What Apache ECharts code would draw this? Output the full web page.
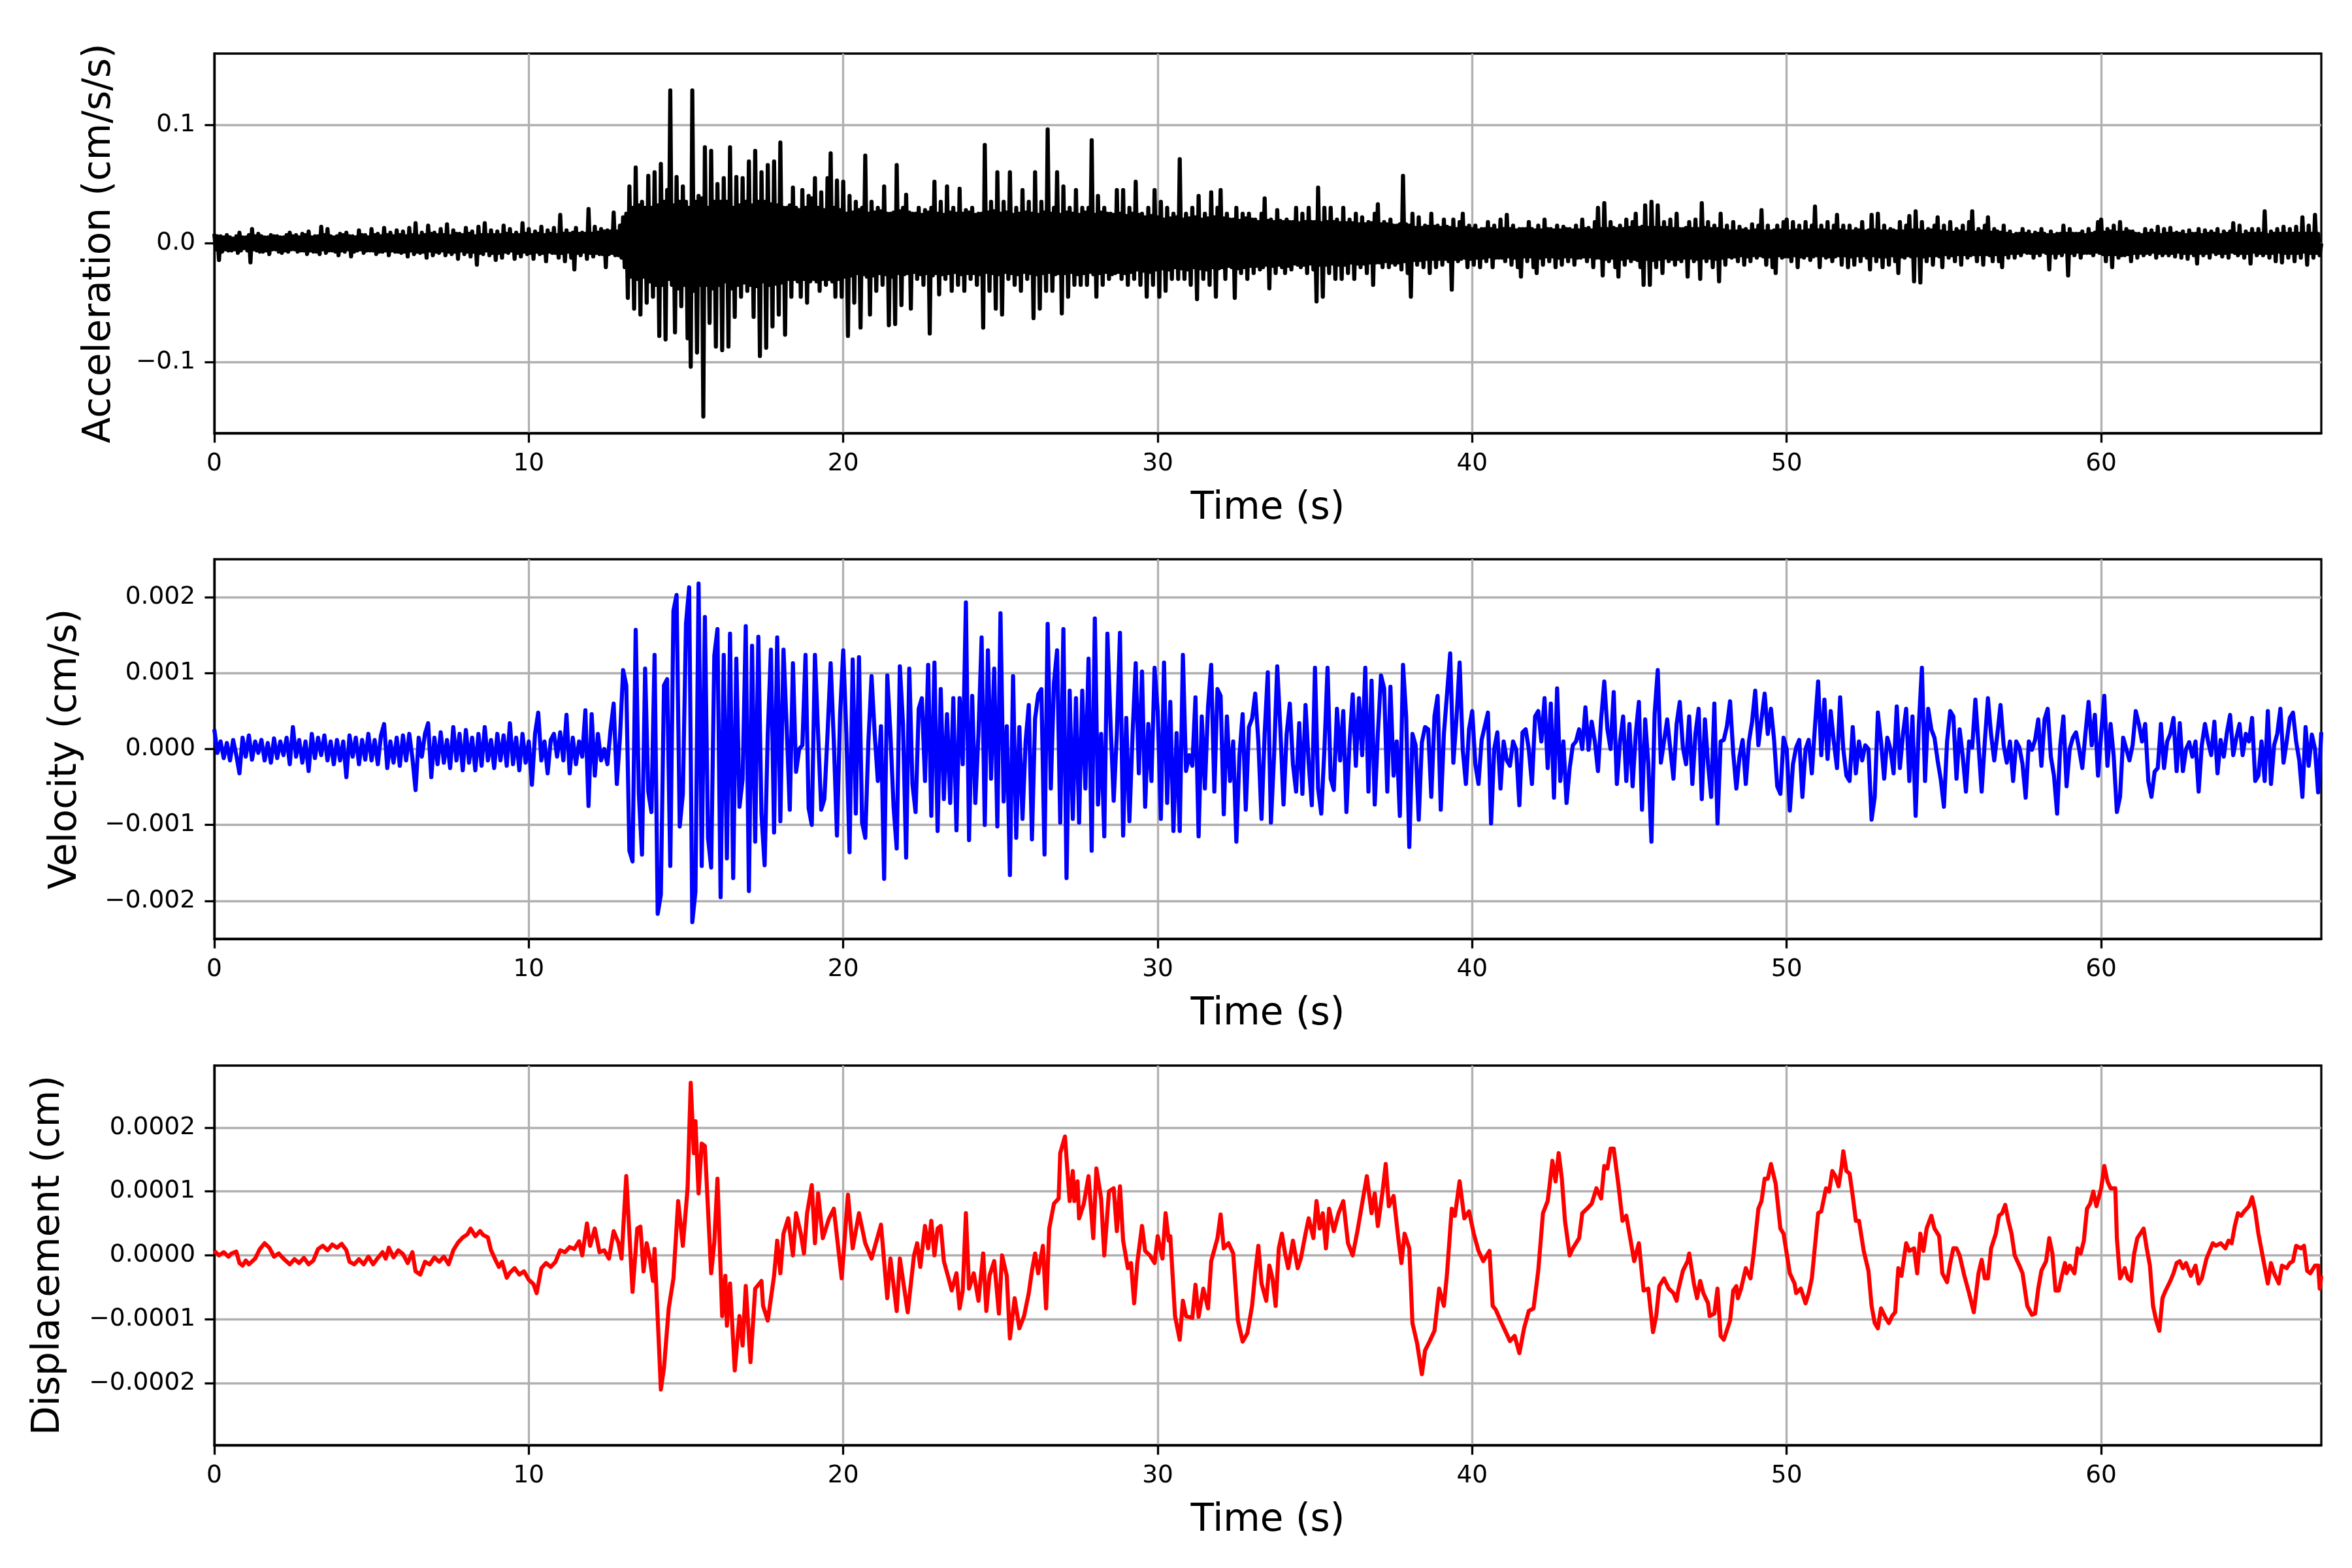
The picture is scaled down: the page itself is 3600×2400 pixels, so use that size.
<!DOCTYPE html>
<html>
<head>
<meta charset="utf-8">
<script src="https://cdn.jsdelivr.net/npm/echarts@6/dist/echarts.min.js"></script>
<style>
html, body { margin: 0; padding: 0; background: #fff; }
#chart { width: 3600px; height: 2400px; }
</style>
</head>
<body>
<div id="chart"></div>
<script>
// tick positions
var timeTicks = [0, 10, 20, 30, 40, 50, 60];
var accTicks = [-0.1, 0, 0.1];
var velTicks = [-0.002, -0.001, 0, 0.001, 0.002];
var dispTicks = [-0.0002, -0.0001, 0, 0.0001, 0.0002];

// sample steps of the records (s)
var accStep = 0.05;
var velStep = 0.1;

// acceleration, in 0.001 cm/s/s, one row per second
var accMilli = [
    8,-5,6,-14,6,-7,5,-5,7,-6,5,-6,4,-5,6,-8,9,-6,5,-4,
    5,-6,7,-16,12,-5,6,-6,8,-7,6,-7,5,-6,5,-9,7,-5,6,-5,
    6,-7,5,-8,5,-6,7,-7,9,-5,6,-5,7,-7,5,-6,8,-6,7,-9,
    10,-6,5,-7,6,-7,6,-9,14,-5,7,-8,12,-6,6,-6,5,-7,6,-10,
    8,-6,7,-7,9,-5,6,-11,6,-7,5,-6,11,-5,7,-8,7,-6,5,-6,
    12,-6,7,-9,8,-7,6,-7,13,-6,7,-10,9,-6,6,-7,11,-7,7,-8,
    10,-7,6,-11,13,-6,7,-9,17,-7,6,-8,9,-7,7,-12,15,-6,8,-10,
    9,-7,7,-8,12,-6,7,-10,16,-7,6,-9,11,-7,8,-13,8,-6,7,-9,
    13,-7,8,-11,10,-7,6,-18,14,-8,7,-9,17,-6,7,-10,11,-8,7,-14,
    10,-8,7,-12,15,-7,8,-8,12,-6,7,-13,9,-8,7,-11,17,-7,8,-9,
    12,-8,7,-13,10,-7,8,-9,14,-8,7,-15,11,-7,8,-8,13,-8,7,-12,
    24,-8,8,-15,11,-7,8,-12,9,-22,13,-8,8,-10,9,-7,8,-13,29,-8,
    8,-11,14,-8,9,-9,12,-9,10,-20,11,-9,10,-8,26,-10,10,-10,15,-12,
    22,-20,25,-46,48,-28,30,-55,64,-30,32,-60,35,-28,30,-50,57,-32,30,-45,
    60,-35,32,-78,67,-35,35,-81,45,-30,129,-35,32,-75,56,-38,35,-53,48,-35,
    35,-80,30,-104,129,-40,35,-92,40,-35,38,-146,81,-35,30,-67,78,-38,35,-87,
    50,-35,35,-90,55,-32,35,-87,81,-38,30,-62,56,-35,32,-45,55,-33,35,-40,
    69,-35,32,-62,78,-36,35,-95,60,-32,35,-88,66,-35,33,-70,69,-34,32,-60,
    85,-33,30,-77,30,-30,32,-45,47,-30,30,-32,28,-45,45,-30,30,-50,40,-32,
    38,-30,55,-32,30,-40,43,-30,28,-35,55,-30,76,-32,30,-45,53,-30,28,-45,
    52,-28,25,-78,40,-27,26,-50,35,-25,28,-71,30,-26,74,-28,25,-60,35,-27,
    26,-40,30,-25,27,-35,48,-26,25,-69,25,-28,26,-68,66,-25,27,-52,30,-26,
    41,-25,26,-55,25,-24,25,-30,30,-26,24,-35,28,-25,26,-76,30,-27,52,-25,
    25,-43,35,-26,24,-30,48,-25,26,-40,30,-24,25,-35,46,-26,25,-40,28,-25,
    26,-30,30,-25,24,-35,25,-26,25,-71,83,-24,26,-40,35,-25,27,-55,60,-26,
    25,-60,35,-24,26,-30,60,-25,24,-35,30,-26,25,-40,45,-24,26,-30,35,-25,
    25,-63,60,-26,24,-55,35,-25,26,-40,96,-24,25,-40,30,-26,60,-25,24,-59,
    48,-25,26,-45,30,-24,25,-35,45,-26,24,-35,30,-25,26,-35,30,-24,87,-26,
    24,-45,40,-25,26,-35,30,-24,25,-30,25,-26,24,-25,45,-24,25,-30,45,-25,
    23,-35,30,-24,25,-30,52,-22,24,-35,25,-23,22,-45,30,-24,23,-35,45,-22,
    22,-45,35,-21,20,-40,30,-22,21,-30,25,-20,22,-30,71,-21,20,-30,25,-22,
    21,-35,30,-20,22,-47,40,-21,20,-30,25,-22,21,-35,43,-20,22,-45,30,-21,
    45,-20,21,-30,25,-19,20,-20,20,-46,30,-21,19,-25,25,-20,21,-30,25,-19,
    20,-25,20,-19,18,-22,25,-20,38,-18,19,-38,20,-19,18,-25,28,-18,19,-20,
    18,-25,20,-19,18,-22,18,-17,30,-18,17,-20,25,-18,18,-25,30,-17,18,-22,
    18,-49,47,-18,17,-45,30,-18,18,-25,30,-17,18,-30,20,-18,17,-30,30,-18,
    17,-25,20,-16,17,-30,25,-17,16,-20,22,-17,16,-25,18,-16,17,-35,25,-16,
    33,-16,16,-20,18,-15,16,-20,20,-16,15,-18,15,-16,16,-22,57,-15,16,-25,
    15,-45,25,-14,13,-18,22,-14,13,-20,15,-13,14,-25,25,-13,14,-20,15,-13,
    13,-18,20,-13,14,-15,13,-39,20,-13,12,-15,18,-13,25,-12,13,-20,15,-13,
    12,-18,15,-12,11,-20,12,-12,12,-15,18,-11,12,-20,15,-12,11,-12,20,-12,
    12,-15,24,-11,12,-18,15,-12,11,-20,12,-28,12,-11,12,-15,18,-11,12,-20,
    11,-25,15,-12,11,-18,20,-11,12,-15,12,-11,11,-20,15,-12,11,-18,14,-11,
    12,-15,12,-11,11,-18,15,-12,11,-12,20,-11,12,-15,13,-11,11,-20,18,-12,
    30,-12,12,-27,34,-13,12,-15,18,-12,13,-20,12,-28,15,-13,12,-18,20,-12,
    13,-15,18,-13,25,-14,13,-20,14,-35,32,-13,13,-35,35,-14,13,-20,32,-13,
    13,-25,18,-12,13,-15,20,-13,12,-18,25,-13,12,-15,12,-12,13,-28,18,-12,
    12,-15,20,-13,12,-30,34,-12,13,-15,18,-12,12,-20,15,-13,12,-32,25,-12,
    11,-18,15,-11,10,-12,18,-11,10,-15,14,-10,11,-18,12,-11,10,-15,16,-10,
    11,-12,15,-10,28,-11,10,-18,15,-11,10,-20,11,-25,15,-10,11,-12,18,-11,
    20,-11,10,-15,18,-10,11,-20,15,-11,10,-12,18,-10,11,-14,15,-11,31,-10,
    11,-20,15,-10,11,-12,18,-11,10,-15,15,-11,24,-10,11,-18,15,-10,10,-20,
    15,-11,10,-18,12,-10,11,-15,18,-10,10,-12,11,-22,24,-10,11,-15,25,-11,
    10,-20,15,-11,10,-18,12,-10,11,-15,10,-25,18,-11,10,-12,15,-10,23,-11,
    11,-32,27,-10,11,-33,18,-11,10,-15,12,-10,11,-18,15,-10,22,-11,10,-20,
    15,-9,9,-12,18,-10,9,-15,12,-9,10,-18,15,-9,9,-12,18,-10,27,-9,
    9,-15,12,-9,10,-18,15,-9,22,-10,9,-15,12,-9,10,-15,9,-20,15,-9,
    8,-12,10,-8,7,-12,8,-8,8,-10,12,-7,8,-8,10,-8,7,-12,9,-8,
    8,-10,12,-7,8,-8,7,-22,10,-8,7,-12,8,-8,8,-10,15,-7,8,-27,
    12,-8,8,-10,8,-7,8,-12,10,-8,7,-8,12,-8,8,-10,9,-7,18,-8,
    20,-9,9,-15,12,-9,10,-20,15,-9,9,-12,18,-10,9,-10,12,-9,10,-15,
    10,-8,8,-12,8,-8,7,-10,12,-8,8,-9,11,-7,8,-12,14,-8,7,-10,
    12,-8,8,-10,13,-8,8,-11,9,-7,8,-12,10,-8,7,-13,11,-8,8,-10,
    8,-17,12,-8,7,-10,11,-8,8,-12,10,-7,8,-9,12,-8,7,-11,10,-8,
    8,-12,10,-7,17,-8,8,-10,15,-8,7,-12,10,-8,8,-17,12,-7,8,-10,
    12,-8,8,-10,27,-8,7,-12,10,-8,8,-15,12,-7,8,-16,14,-8,8,-12,
    12,-8,8,-15,14,-8,8,-12,22,-7,8,-18,15,-8,8,-12,24,-8,8,-10,
    0
];

// velocity, in 0.00001 cm/s, one row per second
var velE5 = [
    26,-5,10,-12,8,-15,12,-8,-32,15,
    -10,18,-14,10,-5,12,-15,8,-18,14,
    -12,10,-8,15,-20,29,-10,12,-18,10,
    -29,20,-12,15,-8,18,-15,10,-20,12,
    -15,10,-37,18,-10,15,-20,12,-14,20,
    -15,12,-20,18,33,-25,10,-18,15,-22,
    18,-15,20,-12,-54,15,-10,20,34,-37,
    15,-20,22,-18,12,-25,29,-15,20,-28,
    25,-18,15,-28,20,-22,29,-15,12,-25,
    20,-15,18,-22,34,-20,15,-28,20,-18,
    10,-47,20,48,-15,10,-32,12,20,-10,
    22,-15,45,-32,15,-20,10,-10,51,-75,
    46,-35,20,-15,0,-20,25,60,-46,15,
    104,84,-134,-148,157,-59,-139,106,-56,-83,
    124,-217,-192,84,92,-154,182,203,-102,-59,
    165,213,-228,-188,218,-154,174,-117,-156,123,
    158,-195,124,-144,152,-170,119,-76,-40,162,
    -187,136,-122,148,-86,-153,20,131,-110,147,
    -95,131,30,-80,113,-30,0,5,124,-78,
    -100,124,20,-80,-66,20,113,10,-114,46,
    130,20,-136,118,-85,121,-97,-117,10,96,
    20,-42,30,-171,97,20,-76,-131,109,33,
    -143,106,-46,-83,53,67,-42,111,-88,114,
    -108,79,-66,46,-71,67,-107,67,-20,193,
    -120,70,-71,20,147,-100,130,-39,106,-102,
    179,-69,30,-166,96,-117,29,-92,10,58,
    -119,40,72,79,-139,165,-52,87,130,-97,
    158,-170,77,-92,67,-97,77,-52,119,-134,
    172,-73,20,-115,152,33,-68,20,153,-114,
    41,-95,20,113,-32,102,-76,33,-42,107,
    50,-92,114,-71,62,-108,21,-108,124,-29,
    -8,-22,68,-115,43,-52,56,111,-56,79,
    70,-86,43,-42,10,-122,-8,46,-80,29,
    40,73,10,-92,20,101,-97,-8,109,26,
    -73,20,60,-20,-56,34,-59,58,-18,-74,
    107,-52,-85,-1,107,-39,-54,53,-15,50,
    -83,9,72,-22,67,-8,107,-56,90,-73,
    20,97,80,-56,82,-35,10,-88,111,43,
    -129,20,5,-93,9,29,26,-63,43,70,
    -80,20,73,126,-18,40,114,-1,-46,26,
    50,-20,-46,12,30,48,-98,0,22,-52,
    10,-15,-22,10,-1,-74,22,26,0,-46,
    43,50,10,67,-25,60,-64,80,-42,10,
    -71,-25,5,10,26,0,55,-1,36,10,
    -29,40,89,26,0,75,-46,10,43,-42,
    33,-49,20,62,-80,39,-20,-122,46,104,
    -18,10,39,0,-39,33,62,2,-20,43,
    -46,20,53,-66,39,-20,-63,60,-98,10,
    12,30,63,-5,-52,-10,12,-46,10,36,
    77,5,40,73,20,53,12,-49,-59,15,
    0,-81,-20,2,12,-63,0,12,-32,30,
    89,-8,65,-13,50,9,-25,68,0,-35,
    -42,29,-32,10,-15,5,0,-93,-63,48,
    10,-39,15,0,-32,56,-25,20,53,-42,
    43,-88,30,107,-42,53,26,15,-15,-40,
    -76,10,50,43,-39,26,-10,-56,10,2,
    65,5,-56,10,67,19,-15,20,58,5,
    -18,10,-42,10,2,-20,-64,10,-1,12,
    39,-22,39,53,-10,-35,-85,5,43,-49,
    0,15,22,0,-25,20,62,5,45,-35,
    20,70,-22,33,-10,-83,-63,15,0,-15,
    5,50,33,10,33,-42,-63,-30,-25,33,
    -25,10,20,41,-29,34,-29,0,9,-10,
    10,-56,5,33,10,-8,36,-32,12,-10,
    22,45,-8,15,33,-8,20,10,41,-42,
    -35,10,-42,50,-46,5,20,53,-18,10,
    41,48,10,-15,-63,29,-22,19,0,-57,
    22
];

// displacement readings: [time s, value in 0.000001 cm]
var dispE6 = [
    [0,7],[0.15,0],[0.3,5],[0.45,-2],[0.55,3],[0.7,6],[0.8,-12],[0.9,-16],[1.0,-8],[1.1,-14],
    [1.3,-5],[1.45,10],[1.6,19],[1.75,12],[1.9,-2],[2.05,3],[2.2,-5],[2.4,-14],[2.55,-6],[2.7,-12],
    [2.85,-4],[3.0,-14],[3.15,-8],[3.3,10],[3.45,15],[3.6,8],[3.75,17],[3.9,12],[4.05,18],[4.2,8],
    [4.3,-10],[4.45,-14],[4.6,-6],[4.75,-14],[4.9,-2],[5.05,-14],[5.2,-4],[5.35,5],[5.45,-5],[5.55,12],
    [5.7,-3],[5.85,8],[6.0,2],[6.15,-12],[6.3,5],[6.4,-25],[6.55,-30],[6.7,-10],[6.85,-14],[7.0,-3],
    [7.15,-10],[7.3,-2],[7.45,-14],[7.6,8],[7.75,20],[7.9,28],[8.05,33],[8.15,42],[8.3,30],[8.45,38],
    [8.55,32],[8.7,28],[8.8,8],[8.95,-8],[9.05,-18],[9.15,-10],[9.3,-35],[9.4,-27],[9.55,-20],[9.7,-30],
    [9.85,-25],[10.0,-38],[10.15,-45],[10.25,-59],[10.4,-20],[10.55,-12],[10.7,-18],[10.85,-10],[11.0,8],[11.15,5],
    [11.3,13],[11.45,10],[11.6,22],[11.7,0],[11.85,50],[11.95,15],[12.1,42],[12.25,5],[12.4,8],[12.55,-5],
    [12.7,38],[12.85,20],[12.95,-5],[13.1,124],[13.3,-57],[13.45,42],[13.55,45],[13.65,-25],[13.75,19],[13.85,-5],
    [13.95,-40],[14.0,10],[14.15,-153],[14.2,-210],[14.3,-176],[14.45,-83],[14.6,-36],[14.75,85],[14.9,15],[15.05,105],
    [15.15,270],[15.25,160],[15.3,210],[15.4,97],[15.5,175],[15.6,171],[15.8,-28],[15.9,20],[16.0,120],[16.15,-95],
    [16.25,-32],[16.3,-110],[16.4,-44],[16.55,-180],[16.7,-95],[16.8,-141],[16.9,-48],[17.05,-167],[17.2,-52],[17.4,-40],
    [17.45,-79],[17.6,-102],[17.8,-32],[17.9,23],[18.0,-28],[18.1,34],[18.25,58],[18.4,0],[18.5,66],[18.65,34],
    [18.75,3],[18.85,66],[19.0,110],[19.1,19],[19.2,97],[19.35,27],[19.55,58],[19.7,73],[19.95,-36],[20.15,95],
    [20.3,11],[20.5,66],[20.7,19],[20.9,-5],[21.2,48],[21.4,-67],[21.5,-5],[21.7,-87],[21.8,-5],[22.05,-89],
    [22.25,0],[22.35,19],[22.45,-18],[22.6,46],[22.7,11],[22.8,54],[22.9,0],[23.0,42],[23.1,46],[23.2,-9],
    [23.35,-36],[23.45,-55],[23.6,-28],[23.7,-83],[23.8,-55],[23.9,66],[24.0,-52],[24.15,-28],[24.3,-71],[24.45,3],
    [24.55,-87],[24.65,-32],[24.8,-9],[24.95,-91],[25.05,0],[25.2,-32],[25.3,-130],[25.45,-67],[25.6,-114],[25.75,-95],
    [25.9,-59],[26.0,-24],[26.1,3],[26.2,-28],[26.35,15],[26.45,-83],[26.55,42],[26.7,81],[26.85,89],[26.9,160],
    [27.05,186],[27.2,85],[27.3,132],[27.35,85],[27.45,116],[27.5,58],[27.65,81],[27.8,124],[27.95,27],[28.05,136],
    [28.2,89],[28.3,0],[28.45,100],[28.6,105],[28.7,38],[28.8,108],[28.9,23],[29.05,-20],[29.15,-12],[29.25,-75],
    [29.35,-12],[29.5,46],[29.6,7],[29.75,0],[29.9,-12],[30.0,30],[30.15,-5],[30.25,66],[30.35,23],[30.4,30],
    [30.55,-95],[30.7,-132],[30.8,-71],[30.9,-95],[31.1,-98],[31.2,-46],[31.3,-96],[31.45,-52],[31.6,-83],[31.7,-9],
    [31.9,27],[32.0,64],[32.1,11],[32.25,19],[32.4,3],[32.55,-102],[32.7,-135],[32.85,-122],[33.0,-79],[33.1,-28],
    [33.2,15],[33.3,-44],[33.45,-71],[33.55,-16],[33.65,-36],[33.75,-79],[33.85,11],[33.95,34],[34.05,3],[34.15,-20],
    [34.3,23],[34.45,-20],[34.55,-5],[34.7,34],[34.8,58],[34.95,27],[35.05,85],[35.15,42],[35.25,66],[35.35,11],
    [35.45,73],[35.6,38],[35.75,66],[35.9,85],[36.05,19],[36.2,0],[36.35,38],[36.5,81],[36.65,124],[36.8,66],
    [36.9,97],[37.0,46],[37.15,100],[37.25,143],[37.35,77],[37.5,93],[37.65,27],[37.75,-12],[37.85,34],[38.0,11],
    [38.1,-106],[38.25,-138],[38.4,-186],[38.5,-149],[38.65,-134],[38.8,-118],[38.95,-52],[39.1,-79],[39.2,-28],[39.35,73],
    [39.45,62],[39.6,116],[39.75,58],[39.9,69],[40.05,34],[40.2,7],[40.35,-9],[40.55,7],[40.65,-79],[40.75,-85],
    [40.9,-102],[41.05,-118],[41.2,-134],[41.35,-126],[41.5,-153],[41.65,-114],[41.8,-87],[41.95,-83],[42.1,-24],[42.25,66],
    [42.4,85],[42.45,105],[42.55,148],[42.65,116],[42.75,160],[42.85,120],[42.95,54],[43.1,0],[43.2,11],[43.4,27],
    [43.5,66],[43.65,73],[43.8,81],[43.95,105],[44.1,89],[44.2,140],[44.3,136],[44.4,167],[44.5,167],[44.65,110],
    [44.78,54],[44.9,62],[45.0,34],[45.15,-9],[45.3,19],[45.45,-55],[45.6,-52],[45.75,-120],[45.85,-95],[45.95,-48],
    [46.1,-36],[46.25,-52],[46.4,-59],[46.5,-71],[46.55,-55],[46.7,-24],[46.85,-9],[46.9,3],[47.05,-44],[47.15,-67],
    [47.25,-40],[47.35,-59],[47.5,-75],[47.55,-95],[47.7,-91],[47.8,-52],[47.9,-126],[48.0,-132],[48.2,-102],[48.3,-55],
    [48.4,-48],[48.45,-67],[48.55,-52],[48.7,-20],[48.85,-36],[48.95,3],[49.1,73],[49.2,85],[49.3,120],[49.4,120],
    [49.5,143],[49.65,112],[49.8,42],[49.9,34],[50.0,3],[50.1,-28],[50.25,-44],[50.3,-59],[50.45,-52],[50.6,-75],
    [50.7,-59],[50.8,-36],[51.0,66],[51.1,69],[51.25,105],[51.35,100],[51.45,132],[51.55,124],[51.65,108],[51.75,140],
    [51.8,163],[51.9,132],[52.0,128],[52.1,93],[52.2,54],[52.3,54],[52.45,7],[52.6,-24],[52.7,-79],[52.8,-106],
    [52.9,-114],[53.0,-83],[53.15,-98],[53.25,-106],[53.35,-95],[53.45,-89],[53.55,-20],[53.65,-32],[53.8,19],[53.9,7],
    [54.05,11],[54.15,-28],[54.25,34],[54.35,7],[54.45,42],[54.6,62],[54.7,42],[54.85,30],[54.95,-28],[55.1,-42],
    [55.2,-12],[55.3,11],[55.4,11],[55.5,0],[55.65,-32],[55.8,-59],[55.95,-89],[56.1,-28],[56.2,-7],[56.3,-36],
    [56.4,-36],[56.5,11],[56.65,34],[56.75,62],[56.85,66],[56.95,79],[57.05,54],[57.15,34],[57.25,0],[57.4,-16],
    [57.5,-28],[57.65,-79],[57.8,-93],[57.9,-91],[58.0,-52],[58.1,-24],[58.25,-9],[58.35,27],[58.45,3],[58.55,-55],
    [58.65,-55],[58.75,-32],[58.85,-12],[58.9,-28],[59.0,-16],[59.15,-28],[59.25,11],[59.35,3],[59.45,23],[59.55,73],
    [59.65,81],[59.75,100],[59.85,77],[60.0,105],[60.1,140],[60.2,116],[60.3,105],[60.45,105],[60.5,27],[60.6,-36],
    [60.75,-20],[60.85,-36],[60.95,-40],[61.05,3],[61.15,27],[61.35,42],[61.45,11],[61.55,-16],[61.65,-79],[61.75,-102],
    [61.85,-118],[61.95,-67],[62.05,-55],[62.2,-40],[62.3,-28],[62.4,-12],[62.5,-9],[62.6,-20],[62.7,-12],[62.85,-32],
    [63.0,-16],[63.1,-44],[63.2,-36],[63.35,-5],[63.45,7],[63.55,19],[63.65,15],[63.8,19],[63.95,11],[64.05,23],
    [64.15,19],[64.25,46],[64.35,66],[64.45,62],[64.55,69],[64.7,77],[64.8,91],[64.9,69],[65.0,34],[65.15,-5],
    [65.3,-44],[65.4,-12],[65.5,-28],[65.65,-44],[65.75,-16],[65.9,-20],[66.0,-12],[66.1,-9],[66.2,15],[66.35,11],
    [66.45,15],[66.55,-24],[66.65,-28],[66.8,-16],[66.9,-16],[66.95,-52],[67.0,-32]
];

var font = 'DejaVu Sans';

function sampled(values, step, unit) {
    return values.map(function (v, i) {
        return [Math.round(i * step * 100) / 100, v * unit];
    });
}

function fmt(digits) {
    return function (v) {
        return v.toFixed(digits).replace('-', '\u2212');
    };
}

function xAxisFor(idx) {
    return {
        type: 'value', gridIndex: idx, min: 0, max: 67,
        name: 'Time (s)', nameLocation: 'middle', nameGap: 87,
        nameTextStyle: {fontFamily: font, fontSize: 58, color: '#000'},
        axisLine: {show: true, onZero: false, lineStyle: {color: '#000', width: 3.3}},
        axisTick: {show: true, length: 14.6, lineStyle: {color: '#000', width: 3.3}, customValues: timeTicks},
        axisLabel: {fontFamily: font, fontSize: 37.5, color: '#000', margin: 28, customValues: timeTicks},
        splitLine: {show: true, lineStyle: {color: '#b0b0b0', width: 3.3}}
    };
}

function yAxisFor(idx, name, lim, ticks, digits, gap) {
    return {
        type: 'value', gridIndex: idx, min: -lim, max: lim,
        name: name, nameLocation: 'middle', nameGap: gap, nameRotate: 90,
        nameTextStyle: {fontFamily: font, fontSize: 58, color: '#000'},
        axisLine: {show: true, onZero: false, lineStyle: {color: '#000', width: 3.3}},
        axisTick: {show: true, length: 14.6, lineStyle: {color: '#000', width: 3.3}, customValues: ticks},
        axisLabel: {fontFamily: font, fontSize: 37.5, color: '#000', margin: 29, customValues: ticks, formatter: fmt(digits)},
        splitLine: {show: true, lineStyle: {color: '#b0b0b0', width: 3.3}}
    };
}

function lineFor(idx, data, color) {
    return {
        type: 'line', xAxisIndex: idx, yAxisIndex: idx, data: data,
        showSymbol: false, symbol: 'none', sampling: null, clip: true,
        lineStyle: {color: color, width: 6.25, join: 'round', cap: 'butt'},
        emphasis: {disabled: true}, z: 3
    };
}

var gridBase = {left: 328, right: 47, height: 581, show: true, borderColor: '#000', borderWidth: 3.3, backgroundColor: 'transparent'};

var chart = echarts.init(document.getElementById('chart'), null, {renderer: 'canvas'});
chart.setOption({
    animation: false,
    backgroundColor: '#fff',
    grid: [
        Object.assign({top: 82}, gridBase),
        Object.assign({top: 856}, gridBase),
        Object.assign({top: 1631}, gridBase)
    ],
    xAxis: [xAxisFor(0), xAxisFor(1), xAxisFor(2)],
    yAxis: [
        yAxisFor(0, 'Acceleration (cm/s/s)', 0.16, accTicks, 1, 146),
        yAxisFor(1, 'Velocity (cm/s)', 0.0025, velTicks, 3, 198),
        yAxisFor(2, 'Displacement (cm)', 0.000297, dispTicks, 4, 224)
    ],
    series: [
        lineFor(0, sampled(accMilli, accStep, 0.001), '#000000'),
        lineFor(1, sampled(velE5, velStep, 0.00001), '#0000ff'),
        lineFor(2, dispE6.map(function (p) { return [p[0], p[1] * 0.000001]; }), '#ff0000')
    ]
});
</script>
</body>
</html>
